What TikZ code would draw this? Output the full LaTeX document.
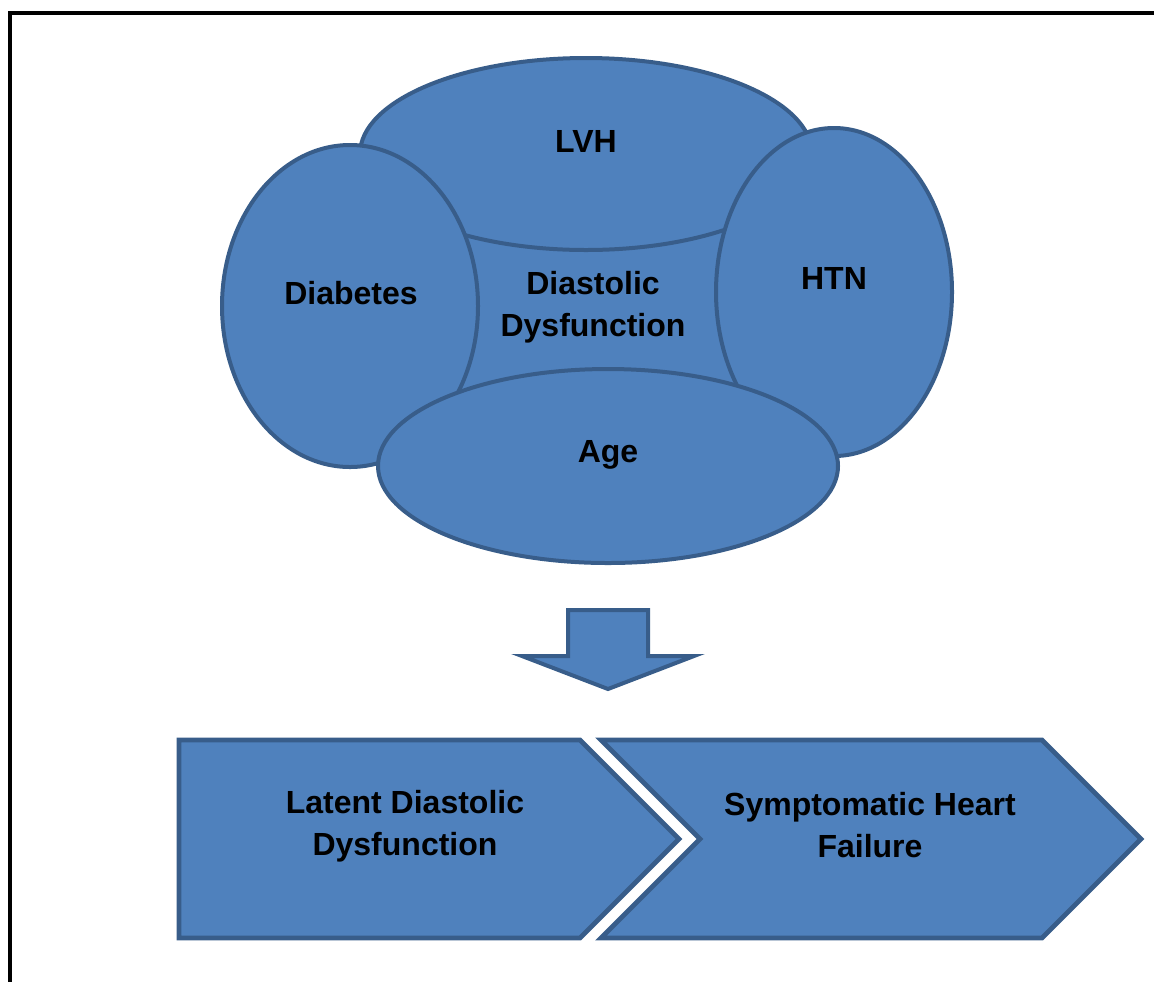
\documentclass[tikz,border=0pt]{standalone}
\usepackage{fontspec}
\setmainfont{Liberation Sans}
\usetikzlibrary{shapes.geometric}
\definecolor{boxfill}{HTML}{4F81BD}
\definecolor{boxline}{HTML}{385D8A}

\tikzset{
factor/.style = {ellipse, draw=boxline, fill=boxfill, line width=2pt, inner sep=0pt},
caption/.style = {font=\fontsize{16}{21}\selectfont\bfseries, align=center, text=black},
stage/.style = {draw=boxline, fill=boxfill, line width=2.4pt, line join=miter}
}

\begin{document}
\begin{tikzpicture}[x=0.5pt, y=-0.5pt]
\useasboundingbox (0,0) rectangle (1154,981);
\clip (0,0) rectangle (1154,981);
\draw[line width=2pt] (10,13) rectangle (1200,1040);

% risk factors round the centre
\node[fill=boxfill, minimum width=145pt, minimum height=85pt, inner sep=0pt] (core) at (600,310) {};
\node[factor, minimum width=226pt, minimum height=96pt] (lvh) at (586,154) {};
\node[factor, minimum width=128pt, minimum height=161pt] (diab) at (350,306) {};
\node[factor, minimum width=118pt, minimum height=164pt] (htn) at (834,292) {};
\node[factor, minimum width=230pt, minimum height=97pt] (age) at (608,466) {};

\node[caption] (lvhtext) at (586,141) {LVH};
\node[caption] (diabtext) at (351,293) {Diabetes};
\node[caption] (htntext) at (834,278) {HTN};
\node[caption] (coretext) at (593,307) {Diastolic\\Dysfunction};
\node[caption] (agetext) at (608,455) {Age};

% down arrow
\draw[stage, line width=2pt] (568,610) -- (648,610) -- (648,656) -- (694,656)
    -- (608,689) -- (522,656) -- (568,656) -- cycle;

% stages
\draw[stage] (179,740) -- (580,740) -- (679,839) -- (580,938) -- (179,938) -- cycle;
\draw[stage] (601,740) -- (1042,740) -- (1141,839) -- (1042,938) -- (601,938) -- (700,839) -- cycle;

\node[caption] (latent) at (405,826) {Latent Diastolic\\Dysfunction};
\node[caption] (heart) at (870,825) {Symptomatic Heart\\Failure};
\end{tikzpicture}
\end{document}
